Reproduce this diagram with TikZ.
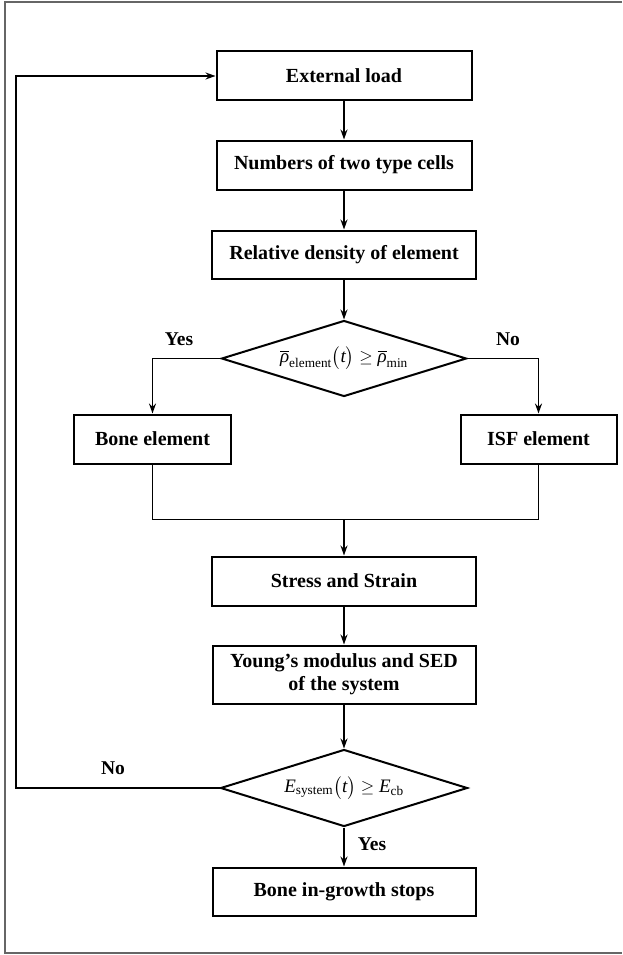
\documentclass[tikz,border=0pt]{standalone}
\usepackage{amsmath,amssymb}
\usepackage{fontspec}
\setmainfont{Liberation Serif}
\usepackage{tikz}
\usetikzlibrary{positioning,arrows.meta,calc,shapes.geometric}

\begin{document}
\begin{tikzpicture}[
    x=1pt, y=1pt,
    node distance=38pt and 40pt,
    block/.style={draw, line width=2pt, minimum width=255pt, minimum height=49pt, inner sep=0pt, font=\fontsize{20}{23}\selectfont\bfseries, align=center},
    decision/.style={draw, diamond, line width=2pt, aspect=3.2, minimum width=245pt, minimum height=76pt, inner sep=0pt, font=\fontsize{19}{23}\selectfont},
    lbl/.style={font=\fontsize{19.5}{23}\selectfont\bfseries},
    arr/.style={-{Stealth[length=10pt,width=7pt]}, line width=1.7pt},
    wire/.style={line width=1.7pt},
]
\useasboundingbox (0,0) rectangle (622,-955);
% Frame
\draw[line width=1.5pt, black!60] (622,-2) -- (5,-2) -- (5,-953) -- (622,-953);

% Main column
\node[block] (load) at (344,-76) {External load};
\node[block, below=38pt of load] (cells) {Numbers of two type cells};
\node[block, below=39pt of cells, minimum width=264pt, minimum height=48pt] (density) {Relative density of element};
\node[decision, below=40pt of density] (check1) {$\overline{\text{\itshape ρ}}_{\text{element}}\bigl(\text{\itshape t}\bigr)\geq\overline{\text{\itshape ρ}}_{\text{min}}$};

% Branches
\coordinate[left=68pt of check1.west] (yesturn);
\coordinate[right=71pt of check1.east] (noturn);
\node[block, minimum width=157pt, below=55pt of yesturn] (bone) {Bone element};
\node[block, minimum width=156pt, below=55pt of noturn] (isf) {ISF element};

% Lower column
\node[block, minimum width=264pt, below=158pt of check1] (stress) {Stress and Strain};
\coordinate[above=36pt of stress.north] (merge);
\node[block, minimum width=263pt, minimum height=58pt, below=38pt of stress] (young) {Young’s modulus and SED\\of the system};
\node[decision, minimum width=247pt, minimum height=77pt, below=44pt of young] (check2) {$\text{\itshape E}_{\text{system}}\bigl(\text{\itshape t}\bigr)\geq\text{\itshape E}_{\text{cb}}$};
\node[block, minimum width=263pt, minimum height=48pt, below=39pt of check2] (stop) {Bone in-growth stops};
\coordinate[left=203.5pt of check2.west] (loopcorner);

% Labels
\node[lbl] (yes1) at ($(check1.west)+(-41.5,19)$) {Yes};
\node[lbl] (no1) at ($(check1.east)+(40.5,19)$) {No};
\node[lbl] (no2) at ($(check2.west)+(-106.5,19.5)$) {No};
\node[lbl] (yes2) at ($(check2.south)+(28,-17)$) {Yes};

% Arrows
\draw[arr] (load) -- (cells);
\draw[arr] (cells) -- (density);
\draw[arr] (density) -- (check1);
\draw[arr] (check1.west) -| (bone);
\draw[arr] (check1.east) -| (isf);
\draw[wire] (bone) |- (merge) -| (isf);
\draw[arr] (merge) -- (stress);
\draw[arr] (stress) -- (young);
\draw[arr] (young) -- (check2);
\draw[arr] (check2) -- (stop);
\draw[arr] (check2.west) -- (loopcorner) |- (load.west);
\end{tikzpicture}
\end{document}
